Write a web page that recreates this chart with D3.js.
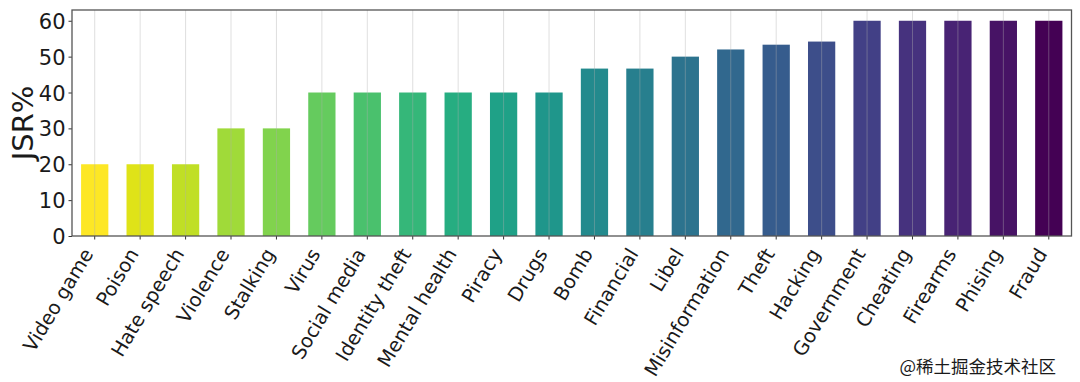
<!DOCTYPE html>
<html>
<head>
<meta charset="utf-8">
<script src="https://cdn.jsdelivr.net/npm/d3@7"></script>
<style>
  body { margin: 0; background: #fff; }
  svg text { font-family: "DejaVu Sans", sans-serif; fill: #1a1a1a; }
</style>
</head>
<body>
<div id="chart"></div>
<script>
// data
var categories = ["Video game", "Poison", "Hate speech", "Violence", "Stalking", "Virus",
  "Social media", "Identity theft", "Mental health", "Piracy", "Drugs", "Bomb",
  "Financial", "Libel", "Misinformation", "Theft", "Hacking", "Government",
  "Cheating", "Firearms", "Phising", "Fraud"];
var jsrValues = [20, 20, 20, 30, 30, 40, 40, 40, 40, 40, 40, 46.67,
  46.67, 50, 52, 53.33, 54.2, 60, 60, 60, 60, 60];
var yTicks = [0, 10, 20, 30, 40, 50, 60];

//layout
var chartWidth = 1080, chartHeight = 382;
var plotLeft = 72, plotRight = 1071.5, plotTop = 10, plotBottom = 236;

var svg = d3.select("#chart").append("svg")
  .attr("width", chartWidth)
  .attr("height", chartHeight);

var x = d3.scaleBand()
  .domain(categories)
  .range([plotLeft, plotRight])
  .paddingInner(0.4)
  .paddingOuter(0.2);

var y = d3.scaleLinear()
  .domain([0, 63])
  .range([plotBottom, plotTop]);

var color = function (i) { return d3.interpolateViridis(1 - i / (categories.length - 1)); };

// bars
svg.append("g").selectAll("rect")
  .data(jsrValues)
  .enter().append("rect")
  .attr("x", function (d, i) { return x(categories[i]); })
  .attr("y", function (d) { return y(d); })
  .attr("width", x.bandwidth())
  .attr("height", function (d) { return y(0) - y(d); })
  .attr("fill", function (d, i) { return color(i); });

// vertical grid, over the bars
svg.append("g").selectAll("line")
  .data(categories)
  .enter().append("line")
  .attr("x1", function (d) { return x(d) + x.bandwidth() / 2; })
  .attr("x2", function (d) { return x(d) + x.bandwidth() / 2; })
  .attr("y1", plotTop)
  .attr("y2", plotBottom)
  .attr("stroke", "#b0b0b0")
  .attr("stroke-opacity", 0.4)
  .attr("stroke-width", 1);

// axes
var yAxis = svg.append("g")
  .attr("transform", "translate(" + plotLeft + ",0)")
  .call(d3.axisLeft(y).tickValues(yTicks).tickSize(3.5).tickPadding(3));
yAxis.select(".domain").remove();
yAxis.selectAll("line").attr("stroke", "#333");
yAxis.selectAll("text").style("font-size", "21px").attr("fill", "#1a1a1a").attr("dy", "0.36em");

var xAxis = svg.append("g")
  .attr("transform", "translate(0," + plotBottom + ")")
  .call(d3.axisBottom(x).tickSize(3.5).tickPadding(2));
xAxis.select(".domain").remove();
xAxis.selectAll("line").attr("stroke", "#333");
xAxis.selectAll("text")
  .style("font-size", "19.5px")
  .attr("fill", "#1a1a1a")
  .attr("text-anchor", "end")
  .attr("dy", "0.35em")
  .attr("transform", "translate(-7,7) rotate(-59)")
  .attr("x", -6)
  .attr("y", 4);

// frame
svg.append("rect")
  .attr("x", plotLeft)
  .attr("y", plotTop)
  .attr("width", plotRight - plotLeft)
  .attr("height", plotBottom - plotTop)
  .attr("fill", "none")
  .attr("stroke", "#555")
  .attr("stroke-width", 1.3);

// y label
svg.append("text")
  .attr("transform", "translate(33," + ((plotTop + plotBottom) / 2) + ") rotate(-90)")
  .attr("text-anchor", "middle")
  .style("font-size", "29px")
  .text("JSR%");

// watermark
svg.append("text")
  .attr("x", 1056)
  .attr("y", 373)
  .attr("text-anchor", "end")
  .style("font-family", "'Noto Sans CJK SC', sans-serif")
  .style("font-size", "17.5px")
  .attr("fill", "#c0c0c0")
  .text("@稀土掘金技术社区");
</script>
</body>
</html>
